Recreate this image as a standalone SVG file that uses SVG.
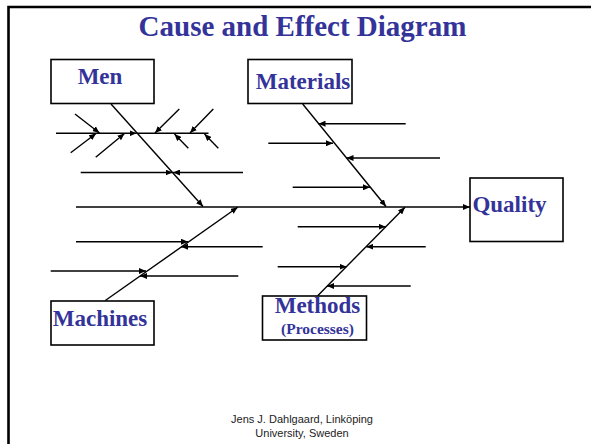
<svg xmlns="http://www.w3.org/2000/svg" width="591" height="444" viewBox="0 0 591 444">
<defs>
<style>
.box{fill:#fff;stroke:#000;stroke-width:1.6}
.lbl{font-family:"Liberation Serif","Times New Roman",serif;font-weight:bold;fill:#333399;text-anchor:middle}
.ln{stroke:#000;stroke-width:1.4;fill:none}
.ar{stroke:#000;stroke-width:1.4;fill:none;marker-end:url(#ah)}
.foot{font-family:"Liberation Sans",Arial,sans-serif;font-size:11px;fill:#222;text-anchor:middle}
</style>
<marker id="ah" viewBox="0 0 7 6" refX="7" refY="3" markerWidth="7" markerHeight="6" markerUnits="userSpaceOnUse" orient="auto">
<path d="M0,0 L7,3 L0,6 z" fill="#000"/>
</marker>
</defs>
<rect width="591" height="444" fill="#fff"/>
<path d="M8.5,444 V7 H600" fill="none" stroke="#000" stroke-width="2.6"/>
<text x="302.5" y="36" class="lbl" font-size="29">Cause and Effect Diagram</text>

<g id="connectors">
<!-- spine -->
<line class="ar" x1="76" y1="207" x2="470" y2="207"/>
<!-- Men -->
<line class="ar" x1="111" y1="104" x2="203" y2="206.5"/>
<line class="ar" x1="56" y1="133.3" x2="136.5" y2="133.3"/>
<line class="ln" x1="136.5" y1="133.3" x2="208.5" y2="133.3"/>
<line class="ar" x1="75" y1="114" x2="99.5" y2="133"/>
<line class="ar" x1="70.7" y1="152.7" x2="96" y2="133.5"/>
<line class="ar" x1="95.7" y1="157.3" x2="124.5" y2="133.5"/>
<line class="ar" x1="179.3" y1="109" x2="155" y2="133"/>
<line class="ar" x1="213.3" y1="109" x2="190" y2="133"/>
<line class="ar" x1="188.3" y1="148.3" x2="174.5" y2="134"/>
<line class="ar" x1="218.3" y1="148.3" x2="204.5" y2="134"/>
<line class="ar" x1="80.7" y1="172.5" x2="172.5" y2="172.5"/>
<line class="ar" x1="243" y1="172.5" x2="173" y2="172.5"/>
<!-- Materials -->
<line class="ar" x1="302.7" y1="104" x2="386" y2="206.5"/>
<line class="ar" x1="405.7" y1="123.7" x2="318.5" y2="123.7"/>
<line class="ar" x1="268.3" y1="143.3" x2="333" y2="143.3"/>
<line class="ar" x1="440" y1="158" x2="346.5" y2="158"/>
<line class="ar" x1="292.7" y1="187.3" x2="370" y2="187.3"/>
<!-- Machines -->
<line class="ar" x1="105.3" y1="300.5" x2="237.7" y2="207.3"/>
<line class="ar" x1="76" y1="241.7" x2="188" y2="241.7"/>
<line class="ar" x1="262.7" y1="246.7" x2="181" y2="246.7"/>
<line class="ar" x1="50.7" y1="271" x2="146" y2="271"/>
<line class="ar" x1="238.3" y1="276" x2="140" y2="276"/>
<!-- Methods -->
<line class="ar" x1="317.7" y1="295.7" x2="405" y2="207.3"/>
<line class="ar" x1="297.7" y1="226.7" x2="385.7" y2="226.7"/>
<line class="ar" x1="425.7" y1="246.7" x2="366.3" y2="246.7"/>
<line class="ar" x1="277.7" y1="266.7" x2="346.5" y2="266.7"/>
<line class="ar" x1="410.7" y1="286" x2="327" y2="286"/>
</g>

<g id="men">
<rect class="box" x="51" y="59.5" width="103" height="44"/>
<text x="100" y="84" class="lbl" font-size="23">Men</text>
</g>
<g id="materials">
<rect class="box" x="248" y="59.5" width="104" height="44"/>
<text x="303" y="88.7" class="lbl" font-size="23">Materials</text>
</g>
<g id="quality">
<rect class="box" x="470" y="178" width="93" height="63.5"/>
<text x="509.5" y="212" class="lbl" font-size="23">Quality</text>
</g>
<g id="machines">
<rect class="box" x="51" y="301" width="103" height="44"/>
<text x="100" y="326" class="lbl" font-size="23">Machines</text>
</g>
<g id="methods">
<rect class="box" x="262.5" y="296" width="104" height="44"/>
<text x="317.5" y="312.7" class="lbl" font-size="23">Methods</text>
<text x="317.5" y="334" class="lbl" font-size="15.5">(Processes)</text>
</g>

<text x="302" y="422.5" class="foot">Jens J. Dahlgaard, Linköping</text>
<text x="302" y="436.5" class="foot">University, Sweden</text>
</svg>
